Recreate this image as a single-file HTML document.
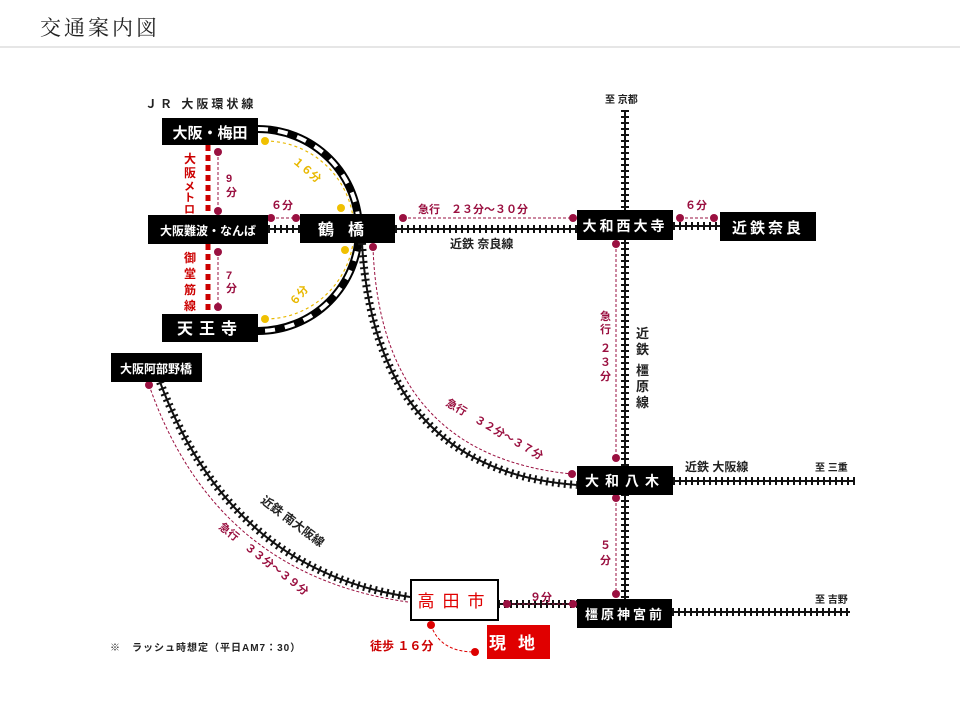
<!DOCTYPE html>
<html><head><meta charset="utf-8"><style>
body{margin:0;background:#fff;width:960px;height:720px;overflow:hidden;font-family:"Liberation Sans","Noto Sans CJK JP",sans-serif}
</style></head><body>
<svg width="960" height="720" xmlns="http://www.w3.org/2000/svg" font-family="'Liberation Sans','Noto Sans CJK JP',sans-serif">
<text x="40" y="35" font-size="21" font-family="'Liberation Serif','Noto Serif CJK SC',serif" letter-spacing="3" fill="#222">交通案内図</text>
<line x1="0" y1="47" x2="960" y2="47" stroke="#ccc" stroke-width="1"/>
<path d="M258,129 A101,101 0 0 1 258,331" fill="none" stroke="#000" stroke-width="8"/>
<path d="M258,129 A101,101 0 0 1 258,331" fill="none" stroke="#fff" stroke-width="4" stroke-dasharray="10,10"/>
<path d="M265,141 A88,88 0 0 1 265,319" fill="none" stroke="#e8b800" stroke-width="1.2" stroke-dasharray="3,3"/>
<g fill="#f0c000"><circle cx="265" cy="141" r="4"/><circle cx="341" cy="208" r="4"/><circle cx="345" cy="250" r="4"/><circle cx="265" cy="319" r="4"/></g>
<text x="292" y="168" font-size="11" fill="#e8b800" font-weight="bold" transform="rotate(40 300 165)">１６分</text>
<text x="288" y="300" font-size="11" fill="#e8b800" font-weight="bold" transform="rotate(-50 298 296)">６分</text>
<g fill="none" stroke="#111">
<g stroke-width="2">
<line x1="625" y1="110" x2="625" y2="600"/>
<line x1="268" y1="229" x2="300" y2="229"/>
<line x1="395" y1="229" x2="577" y2="229"/>
<line x1="673" y1="226" x2="720" y2="226"/>
<line x1="673" y1="481" x2="855" y2="481"/>
<line x1="498" y1="604" x2="577" y2="604"/>
<line x1="672" y1="612" x2="850" y2="612"/>
<path d="M362,243 Q375,470 577,485"/>
<path d="M160,382 Q230,570 410,597"/>
</g>
<g stroke-width="8" stroke-dasharray="2,4">
<line x1="625" y1="110" x2="625" y2="600"/>
<line x1="268" y1="229" x2="300" y2="229"/>
<line x1="395" y1="229" x2="577" y2="229"/>
<line x1="673" y1="226" x2="720" y2="226"/>
<line x1="673" y1="481" x2="855" y2="481"/>
<line x1="498" y1="604" x2="577" y2="604"/>
<line x1="672" y1="612" x2="850" y2="612"/>
<path d="M362,243 Q375,470 577,485"/>
<path d="M160,382 Q230,570 410,597"/>
</g>
</g>
<line x1="208" y1="145" x2="208" y2="215" stroke="#c00" stroke-width="5" stroke-dasharray="6,4"/>
<line x1="208" y1="244" x2="208" y2="314" stroke="#c00" stroke-width="5" stroke-dasharray="6,4"/>
<g fill="none" stroke="#9a1040" stroke-width="1" stroke-dasharray="3,2">
<line x1="218" y1="152" x2="218" y2="211"/>
<line x1="218" y1="252" x2="218" y2="307"/>
<line x1="271" y1="218" x2="296" y2="218"/>
<line x1="403" y1="218" x2="573" y2="218"/>
<line x1="680" y1="218" x2="714" y2="218"/>
<line x1="616" y1="244" x2="616" y2="458"/>
<line x1="616" y1="498" x2="616" y2="594"/>
<line x1="507" y1="604" x2="573" y2="604"/>
<path d="M373,247 Q380,455 572,474"/>
<path d="M149,385 Q215,575 408,602"/>
</g>
<path d="M431,625 Q440,652 475,652" fill="none" stroke="#d00" stroke-width="1" stroke-dasharray="3,2"/>
<g fill="#9a1040">
<circle cx="218" cy="152" r="4"/><circle cx="218" cy="211" r="4"/><circle cx="218" cy="252" r="4"/><circle cx="218" cy="307" r="4"/>
<circle cx="271" cy="218" r="4"/><circle cx="296" cy="218" r="4"/>
<circle cx="403" cy="218" r="4"/><circle cx="573" cy="218" r="4"/>
<circle cx="680" cy="218" r="4"/><circle cx="714" cy="218" r="4"/>
<circle cx="616" cy="244" r="4"/><circle cx="616" cy="458" r="4"/>
<circle cx="616" cy="498" r="4"/><circle cx="616" cy="594" r="4"/>
<circle cx="507" cy="604" r="4"/><circle cx="573" cy="604" r="4"/>
<circle cx="373" cy="247" r="4"/><circle cx="572" cy="474" r="4"/>
<circle cx="149" cy="385" r="4"/>
</g>
<g fill="#d00"><circle cx="431" cy="625" r="4"/><circle cx="475" cy="652" r="4"/></g>
<g fill="#000">
<rect x="162" y="118" width="96" height="27"/>
<rect x="148" y="215" width="120" height="29"/>
<rect x="300" y="214" width="95" height="29"/>
<rect x="162" y="314" width="96" height="28"/>
<rect x="577" y="210" width="96" height="30"/>
<rect x="720" y="212" width="96" height="29"/>
<rect x="111" y="353" width="91" height="29"/>
<rect x="577" y="466" width="96" height="29"/>
<rect x="577" y="599" width="95" height="29"/>
</g>
<rect x="411" y="580" width="87" height="40" fill="#fff" stroke="#000" stroke-width="2"/>
<rect x="487" y="625" width="63" height="34" fill="#e00000"/>
<g fill="#fff" font-weight="bold">
<text x="210" y="138" font-size="15" text-anchor="middle">大阪・梅田</text>
<text x="208" y="235" font-size="12" text-anchor="middle">大阪難波・なんば</text>
<text x="348" y="235" font-size="16" text-anchor="middle" letter-spacing="14">鶴橋</text>
<text x="210" y="334" font-size="16" text-anchor="middle" letter-spacing="6">天王寺</text>
<text x="625" y="231" font-size="14" text-anchor="middle" letter-spacing="3">大和西大寺</text>
<text x="768" y="233" font-size="15" text-anchor="middle" letter-spacing="3">近鉄奈良</text>
<text x="156" y="373" font-size="12" text-anchor="middle">大阪阿部野橋</text>
<text x="625" y="486" font-size="14" text-anchor="middle" letter-spacing="6">大和八木</text>
<text x="625" y="619" font-size="13" text-anchor="middle" letter-spacing="3">橿原神宮前</text>
<text x="518" y="649" font-size="17" text-anchor="middle" letter-spacing="12">現地</text>
</g>
<text x="455" y="607" font-size="17" fill="#e00000" text-anchor="middle" letter-spacing="8">高田市</text>
<g font-weight="bold" fill="#222">
<text x="145" y="108" font-size="12" letter-spacing="3">ＪＲ 大阪環状線</text>
<text x="605" y="103" font-size="10">至 京都</text>
<text x="450" y="248" font-size="12">近鉄 奈良線</text>
<text x="685" y="471" font-size="12">近鉄 大阪線</text>
<text x="815" y="471" font-size="10">至 三重</text>
<text x="815" y="603" font-size="10">至 吉野</text>
<text x="110" y="651" font-size="10" letter-spacing="1">※　ラッシュ時想定（平日AM7：30）</text>
<g font-size="13"><text x="636" y="338">近</text><text x="636" y="354">鉄</text><text x="636" y="375">橿</text><text x="636" y="391">原</text><text x="636" y="407">線</text></g>
<text x="260" y="502" font-size="12" transform="rotate(37 260 502)">近鉄 南大阪線</text>
</g>
<g font-weight="bold" fill="#c00" font-size="12">
<text x="184" y="163">大</text><text x="184" y="177">阪</text><text x="184" y="190" font-size="11">メ</text><text x="184" y="201" font-size="11">ト</text><text x="184" y="213" font-size="11">ロ</text>
<text x="184" y="262">御</text><text x="184" y="278">堂</text><text x="184" y="294">筋</text><text x="184" y="310">線</text>
<text x="370" y="650">徒歩 １６分</text>
</g>
<g font-weight="bold" fill="#9a1040" font-size="11">
<text x="226" y="182">9</text><text x="226" y="196">分</text>
<text x="226" y="279">7</text><text x="226" y="292">分</text>
<text x="271" y="209">６分</text>
<text x="418" y="213">急行　２３分～３０分</text>
<text x="685" y="209">６分</text>
<text x="600" y="320">急</text><text x="600" y="333">行</text><text x="600" y="352">２</text><text x="600" y="366">３</text><text x="600" y="380">分</text>
<text x="600" y="549">５</text><text x="600" y="564">分</text>
<text x="530" y="601">９分</text>
<text x="445" y="405" transform="rotate(30 445 405)">急行　３２分～３７分</text>
<text x="218" y="528" transform="rotate(38 218 528)">急行　３３分～３９分</text>
</g>
</svg>
</body></html>
